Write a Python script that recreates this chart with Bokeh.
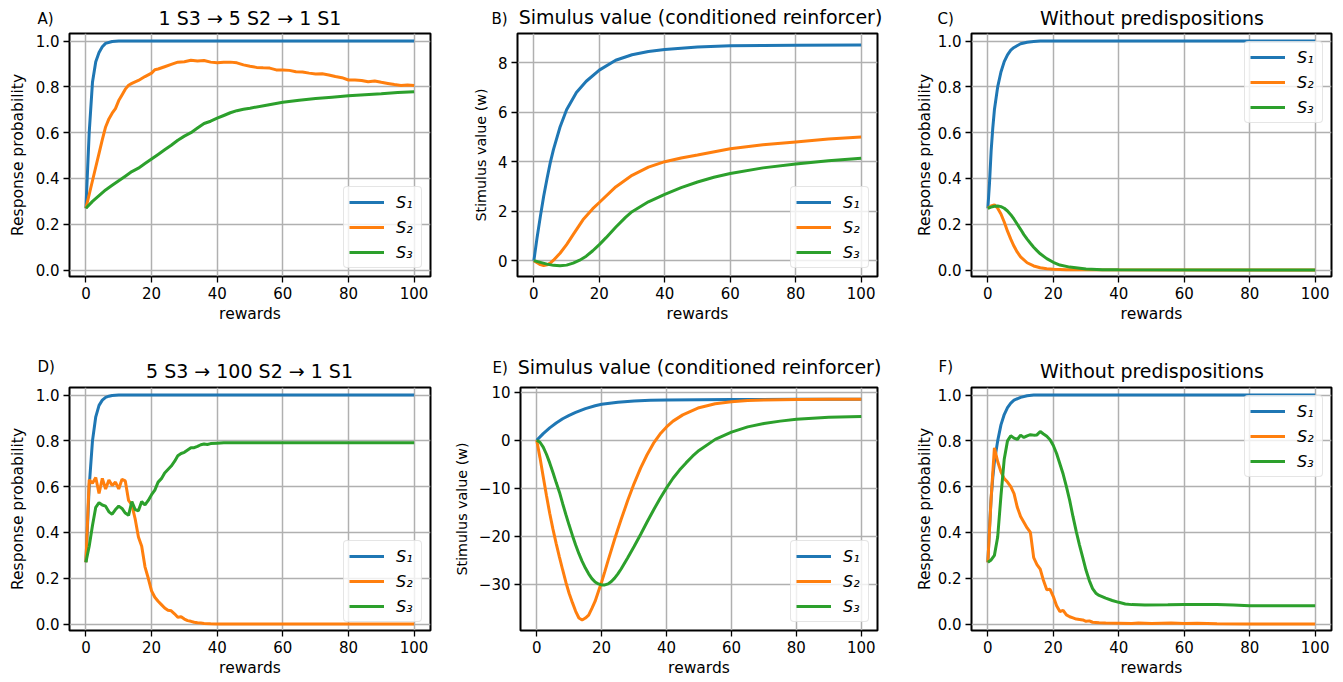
from bokeh.plotting import figure
from bokeh.layouts import column, row
from bokeh.models import Range1d, FixedTicker, PrintfTickFormatter, Label
from bokeh.embed import file_html
from bokeh.resources import INLINE

FONT = "DejaVu Sans"
COLORS = ["#1f77b4", "#ff7f0e", "#2ca02c"]
SERIES_LABELS = ["S\u2081", "S\u2082", "S\u2083"]
X_TICKS = [0, 20, 40, 60, 80, 100]
PROB_TICKS = [0.0, 0.2, 0.4, 0.6, 0.8, 1.0]
B_TICKS = [0, 2, 4, 6, 8]
E_TICKS = [-30, -20, -10, 0, 10]
E_TICK_LABELS = {-30: "\u221230", -20: "\u221220", -10: "\u221210", 0: "0", 10: "10"}

# ---------------- Panel A: 1 S3 -> 5 S2 -> 1 S1 ----------------
a_s1_x = [0, 1, 2, 3, 4, 5, 6, 8, 10, 100]
a_s1_y = [0.27, 0.60, 0.82, 0.91, 0.95, 0.975, 0.99, 0.998, 1.0, 1.0]
a_s2_x = [0, 1, 2, 3, 4, 5, 6, 7, 8, 9, 10, 11, 12, 13, 14, 16, 18, 20, 21, 22, 24, 26, 28, 30,
          32, 34, 36, 38, 40, 42, 44, 46, 48, 50, 52, 54, 56, 58, 60, 62, 64, 66, 68, 70, 72,
          74, 76, 78, 80, 82, 84, 86, 88, 90, 92, 94, 96, 98, 100]
a_s2_y = [0.27, 0.33, 0.39, 0.45, 0.51, 0.57, 0.625, 0.66, 0.685, 0.705, 0.74, 0.765, 0.79,
          0.807, 0.815, 0.828, 0.845, 0.86, 0.875, 0.878, 0.888, 0.898, 0.908, 0.91, 0.916,
          0.913, 0.915, 0.908, 0.905, 0.907, 0.908, 0.905, 0.896, 0.89, 0.885, 0.883, 0.882,
          0.874, 0.874, 0.872, 0.866, 0.865, 0.86, 0.856, 0.857, 0.852, 0.845, 0.84, 0.83,
          0.83, 0.828, 0.822, 0.826, 0.82, 0.815, 0.81, 0.806, 0.808, 0.806]
a_s3_x = [0, 2, 4, 6, 8, 10, 12, 14, 16, 18, 20, 22, 24, 26, 28, 30, 32, 34, 36, 38, 40, 42,
          44, 46, 48, 50, 55, 60, 65, 70, 75, 80, 85, 90, 95, 100]
a_s3_y = [0.27, 0.30, 0.325, 0.35, 0.37, 0.39, 0.41, 0.43, 0.445, 0.465, 0.485, 0.505, 0.525,
          0.545, 0.567, 0.585, 0.60, 0.62, 0.64, 0.65, 0.663, 0.675, 0.687, 0.696, 0.702,
          0.707, 0.72, 0.733, 0.742, 0.749, 0.755, 0.761, 0.766, 0.77, 0.775, 0.779]

# ---------------- Panel B: stimulus value ----------------
b_s1_x = [0, 1, 2, 3, 4, 5, 6, 8, 10, 13, 16, 20, 25, 30, 35, 40, 50, 60, 70, 80, 100]
b_s1_y = [0, 0.95, 1.8, 2.6, 3.3, 3.95, 4.5, 5.4, 6.1, 6.8, 7.25, 7.7, 8.1, 8.32, 8.45, 8.53,
          8.63, 8.68, 8.70, 8.71, 8.72]
b_s2_x = [0, 1, 2, 3, 4, 5, 6, 8, 10, 12, 15, 18, 20, 25, 30, 35, 40, 45, 50, 60, 70, 80, 90, 100]
b_s2_y = [0, -0.08, -0.16, -0.2, -0.17, -0.1, 0.02, 0.3, 0.65, 1.05, 1.65, 2.1, 2.35, 2.98,
          3.45, 3.78, 4.0, 4.15, 4.27, 4.52, 4.68, 4.8, 4.92, 5.0]
b_s3_x = [0, 2, 4, 6, 8, 10, 12, 14, 16, 18, 20, 22, 25, 28, 30, 35, 40, 45, 50, 55, 60, 70,
          80, 90, 100]
b_s3_y = [0, -0.07, -0.14, -0.19, -0.21, -0.18, -0.1, 0.02, 0.18, 0.4, 0.65, 0.92, 1.35,
          1.75, 1.98, 2.38, 2.68, 2.95, 3.18, 3.37, 3.52, 3.75, 3.91, 4.04, 4.14]

# ---------------- Panel C: without predispositions ----------------
c_s1_x = [0, 0.5, 1, 1.5, 2, 3, 4, 5, 6, 7, 8, 10, 12, 14, 16, 20, 100]
c_s1_y = [0.27, 0.38, 0.52, 0.62, 0.70, 0.80, 0.865, 0.91, 0.94, 0.96, 0.972, 0.988, 0.995,
          0.998, 1.0, 1.0, 1.0]
c_s2_x = [0, 1, 2, 3, 4, 5, 6, 7, 8, 9, 10, 12, 14, 16, 18, 20, 24, 30, 100]
c_s2_y = [0.27, 0.28, 0.285, 0.27, 0.245, 0.21, 0.17, 0.135, 0.104, 0.078, 0.058, 0.032,
          0.018, 0.01, 0.006, 0.004, 0.002, 0.001, 0.0]
c_s3_x = [0, 1, 2, 3, 4, 5, 6, 7, 8, 9, 10, 11, 12, 13, 14, 15, 16, 18, 20, 22, 25, 30, 35,
          40, 100]
c_s3_y = [0.27, 0.275, 0.279, 0.28, 0.277, 0.27, 0.258, 0.242, 0.222, 0.2, 0.178, 0.155,
          0.135, 0.117, 0.1, 0.085, 0.071, 0.05, 0.034, 0.022, 0.013, 0.005, 0.002, 0.001, 0.0]

# ---------------- Panel D: 5 S3 -> 100 S2 -> 1 S1 ----------------
d_s1_x = [0, 1, 2, 3, 4, 5, 6, 7, 8, 10, 100]
d_s1_y = [0.27, 0.60, 0.80, 0.905, 0.955, 0.978, 0.99, 0.995, 0.998, 1.0, 1.0]
d_s2_x = [0, 1, 2, 3, 4, 5, 6, 7, 8, 9, 10, 11, 12, 13, 14, 15, 16, 17, 18, 19, 20, 21, 22,
          23, 24, 25, 26, 27, 28, 29, 30, 31, 32, 33, 34, 35, 36, 38, 40, 100]
d_s2_y = [0.27, 0.63, 0.615, 0.64, 0.57, 0.636, 0.59, 0.629, 0.605, 0.62, 0.59, 0.632, 0.625,
          0.54, 0.52, 0.46, 0.38, 0.34, 0.25, 0.2, 0.145, 0.117, 0.1, 0.085, 0.07, 0.06, 0.058,
          0.045, 0.03, 0.032, 0.022, 0.015, 0.012, 0.008, 0.006, 0.005, 0.003, 0.001, 0.0, 0.0]
d_s3_x = [0, 1, 2, 3, 4, 5, 6, 7, 8, 9, 10, 11, 12, 13, 14, 15, 16, 17, 18, 19, 20, 21, 22,
          23, 24, 25, 26, 27, 28, 29, 30, 31, 32, 33, 34, 35, 36, 37, 38, 40, 42, 100]
d_s3_y = [0.27, 0.34, 0.43, 0.51, 0.53, 0.52, 0.515, 0.49, 0.48, 0.5, 0.515, 0.505, 0.485,
          0.475, 0.535, 0.5, 0.495, 0.535, 0.52, 0.54, 0.565, 0.585, 0.62, 0.635, 0.66, 0.675,
          0.69, 0.71, 0.735, 0.745, 0.75, 0.76, 0.77, 0.77, 0.776, 0.783, 0.786, 0.784, 0.788,
          0.79, 0.792, 0.792]

# ---------------- Panel E: stimulus value ----------------
e_s1_x = [0, 2, 4, 6, 8, 10, 12, 15, 18, 20, 25, 30, 35, 40, 50, 60, 80, 100]
e_s1_y = [0, 1.4, 2.6, 3.6, 4.5, 5.2, 5.8, 6.6, 7.2, 7.5, 7.95, 8.2, 8.32, 8.4, 8.46, 8.5,
          8.53, 8.54]
e_s2_x = [0, 1, 2, 3, 4, 5, 6, 7, 8, 9, 10, 11, 12, 13, 14, 15, 16, 17, 18, 19, 20, 21, 22,
          23, 24, 25, 26, 28, 30, 32, 34, 36, 38, 40, 42, 45, 50, 55, 60, 65, 70, 80, 90, 100]
e_s2_y = [0, -3.6, -7.6, -11.5, -15.2, -18.5, -21.5, -24.3, -27.0, -29.6, -31.9, -33.8,
          -35.6, -37.0, -37.4, -37.0, -36.4, -35.0, -33.5, -31.5, -29.5, -27.3, -25.0, -22.8,
          -20.6, -18.5, -16.5, -12.6, -9.0, -5.8, -3.0, -0.6, 1.3, 2.8, 4.0, 5.3, 6.8, 7.6,
          8.05, 8.3, 8.42, 8.52, 8.55, 8.56]
e_s3_x = [0, 1, 2, 3, 4, 5, 6, 7, 8, 9, 10, 11, 12, 13, 14, 15, 16, 17, 18, 19, 20, 21, 22,
          23, 24, 25, 26, 28, 30, 32, 34, 36, 38, 40, 42, 44, 46, 48, 50, 55, 60, 65, 70, 75,
          80, 90, 100]
e_s3_y = [0, -0.4, -1.4, -2.9, -4.7, -6.7, -8.8, -10.8, -13.2, -15.5, -17.7, -19.8, -21.8,
          -23.6, -25.2, -26.6, -27.8, -28.8, -29.5, -29.9, -30.1, -30.1, -29.9, -29.4, -28.7,
          -27.8, -26.8, -24.5, -22.1, -19.6, -17.0, -14.5, -12.1, -9.9, -7.9, -6.2, -4.7,
          -3.3, -2.1, 0.2, 1.7, 2.8, 3.5, 4.0, 4.4, 4.8, 4.95]

# ---------------- Panel F: without predispositions ----------------
f_s1_x = [0, 0.5, 1, 1.5, 2, 3, 4, 5, 6, 7, 8, 10, 12, 14, 100]
f_s1_y = [0.27, 0.42, 0.55, 0.64, 0.71, 0.80, 0.87, 0.915, 0.945, 0.965, 0.978, 0.99, 0.997,
          1.0, 1.0]
f_s2_x = [0, 1, 2, 3, 4, 5, 6, 7, 8, 9, 10, 11, 12, 13, 14, 15, 16, 17, 18, 19, 20, 21, 22,
          23, 24, 25, 26, 27, 28, 29, 30, 31, 32, 34, 36, 40, 44, 46, 50, 56, 60, 64, 70, 80, 100]
f_s2_y = [0.27, 0.55, 0.77, 0.71, 0.665, 0.635, 0.62, 0.6, 0.57, 0.51, 0.47, 0.445, 0.42,
          0.40, 0.29, 0.26, 0.24, 0.19, 0.15, 0.152, 0.12, 0.08, 0.055, 0.06, 0.04, 0.032,
          0.027, 0.022, 0.02, 0.018, 0.012, 0.014, 0.008, 0.006, 0.005, 0.004, 0.003, 0.005,
          0.003, 0.005, 0.003, 0.004, 0.001, 0.0, 0.0]
f_s3_x = [0, 1, 2, 3, 4, 5, 6, 7, 8, 9, 10, 11, 12, 13, 14, 15, 16, 17, 18, 19, 20, 21, 22,
          23, 24, 25, 26, 27, 28, 29, 30, 31, 32, 33, 34, 36, 38, 40, 42, 44, 48, 55, 60, 70,
          75, 80, 100]
f_s3_y = [0.27, 0.28, 0.30, 0.38, 0.56, 0.72, 0.80, 0.822, 0.812, 0.806, 0.825, 0.815, 0.822,
          0.827, 0.825, 0.826, 0.841, 0.83, 0.82, 0.805, 0.78, 0.745, 0.70, 0.655, 0.60, 0.54,
          0.47, 0.405, 0.345, 0.29, 0.235, 0.19, 0.155, 0.135, 0.125, 0.113, 0.103, 0.095,
          0.088, 0.085, 0.083, 0.084, 0.085, 0.085, 0.083, 0.08, 0.08]

FH = 243
# rows: (top border, bottom border)
ROWS = [(33, 57), (54, 49)]
# columns: (left border, frame width, right border, side for the panel letter, y-label standoff)
COLS = [(69, 361, 20, "right", 6), (67, 360, 18, "right", 6), (76, 360, 10, "left", 1)]


def panel(series, ylim, yticks, ylabel, ylabel_size, legend_loc, col, rw,
          letter, lx, ly, title, tx, ty, yfmt=None, yover=None):
    left, fw, right, letter_side, ystand = COLS[col]
    top, bottom = ROWS[rw]
    p = figure(width=left + fw + right, height=top + FH + bottom, output_backend="svg",
               toolbar_location=None, x_range=Range1d(-5, 105),
               y_range=Range1d(*ylim),
               min_border_left=left, min_border_right=right,
               min_border_top=top, min_border_bottom=bottom)
    p.background_fill_color = "white"
    p.border_fill_color = "white"
    p.outline_line_color = "black"
    p.outline_line_width = 2
    p.outline_line_alpha = 1

    for (xs, ys), c, lab in zip(series, COLORS, SERIES_LABELS):
        p.line(xs, ys, line_color=c, line_width=3, legend_label=lab)

    p.xaxis.ticker = FixedTicker(ticks=X_TICKS)
    p.yaxis.ticker = FixedTicker(ticks=yticks)
    p.xgrid.ticker = FixedTicker(ticks=X_TICKS)
    p.ygrid.ticker = FixedTicker(ticks=yticks)
    if yfmt is not None:
        p.yaxis.formatter = PrintfTickFormatter(format=yfmt)
    if yover is not None:
        p.yaxis.major_label_overrides = yover
    for g in (p.xgrid, p.ygrid):
        g.grid_line_color = "#b0b0b0"
        g.grid_line_width = 1.5
    for ax in (p.xaxis, p.yaxis):
        ax.axis_line_color = None
        ax.major_tick_line_color = "black"
        ax.major_tick_line_width = 1.3
        ax.major_tick_out = 6
        ax.major_tick_in = 0
        ax.minor_tick_line_color = None
        ax.major_label_text_font = FONT
        ax.major_label_text_font_size = "15px"
        ax.major_label_text_color = "black"
        ax.major_label_standoff = 4
        ax.axis_label_text_font = FONT
        ax.axis_label_text_font_style = "normal"
        ax.axis_label_text_color = "black"
    p.xaxis.axis_label = "rewards"
    p.xaxis.axis_label_text_font_size = "15.5px"
    p.xaxis.axis_label_standoff = 3
    p.yaxis.axis_label = ylabel
    p.yaxis.axis_label_text_font_size = ylabel_size
    p.yaxis.axis_label_standoff = ystand

    lg = p.legend[0]
    lg.location = legend_loc
    lg.label_text_font = FONT
    lg.label_text_font_style = "italic"
    lg.label_text_font_size = "16px"
    lg.label_text_color = "black"
    lg.glyph_width = 35
    lg.glyph_height = 20
    lg.label_height = 20
    lg.label_standoff = 12
    lg.spacing = 5
    lg.padding = 5
    lg.margin = 8
    lg.border_line_color = "#cccccc"
    lg.border_line_width = 1
    lg.background_fill_alpha = 0.8
    try:
        lg.border_radius = 4
    except Exception:
        pass

    # title and panel letter, positioned in canvas pixels of this figure
    p.add_layout(Label(x=tx, y=ty, x_units="canvas", y_units="canvas", text=title,
                       text_align="center", text_baseline="alphabetic", text_font=FONT,
                       text_font_size="19px", text_color="black"), "above")
    p.add_layout(Label(x=lx, y=ly, x_units="canvas", y_units="canvas", text=letter,
                       text_align="left", text_baseline="alphabetic", text_font=FONT,
                       text_font_size="15px", text_color="black"), letter_side)
    return p


PROB = (-0.028, 1.033)

pA = panel([(a_s1_x, a_s1_y), (a_s2_x, a_s2_y), (a_s3_x, a_s3_y)], PROB, PROB_TICKS,
           "Response probability", "15.5px", "bottom_right", 0, 0,
           "A)", 37, 18, "1 S3 \u2192 5 S2 \u2192 1 S1", 249.5, 17, yfmt="%.1f")
pB = panel([(b_s1_x, b_s1_y), (b_s2_x, b_s2_y), (b_s3_x, b_s3_y)], (-0.64, 9.18), B_TICKS,
           "Stimulus value (w)", "14.3px", "bottom_right", 1, 0,
           "B)", 41, 18, "Simulus value (conditioned reinforcer)", 250, 16)
pC = panel([(c_s1_x, c_s1_y), (c_s2_x, c_s2_y), (c_s3_x, c_s3_y)], PROB, PROB_TICKS,
           "Response probability", "15.5px", "top_right", 2, 0,
           "C)", 42, 18, "Without predispositions", 256.5, 17, yfmt="%.1f")
pD = panel([(d_s1_x, d_s1_y), (d_s2_x, d_s2_y), (d_s3_x, d_s3_y)], PROB, PROB_TICKS,
           "Response probability", "15.5px", "bottom_right", 0, 1,
           "D)", 37, 33.5, "5 S3 \u2192 100 S2 \u2192 1 S1", 249, 37, yfmt="%.1f")
pE = panel([(e_s1_x, e_s1_y), (e_s2_x, e_s2_y), (e_s3_x, e_s3_y)], (-39.6, 11.0), E_TICKS,
           "Stimulus value (w)", "14.3px", "bottom_right", 1, 1,
           "E)", 42, 34.5, "Simulus value (conditioned reinforcer)", 249, 33, yover=E_TICK_LABELS)
pF = panel([(f_s1_x, f_s1_y), (f_s2_x, f_s2_y), (f_s3_x, f_s3_y)], PROB, PROB_TICKS,
           "Response probability", "15.5px", "top_right", 2, 1,
           "F)", 43, 33.5, "Without predispositions", 256.5, 37, yfmt="%.1f")

layout = column(row(pA, pB, pC), row(pD, pE, pF))

with open("out.html", "w") as fh:
    fh.write(file_html(layout, INLINE))
